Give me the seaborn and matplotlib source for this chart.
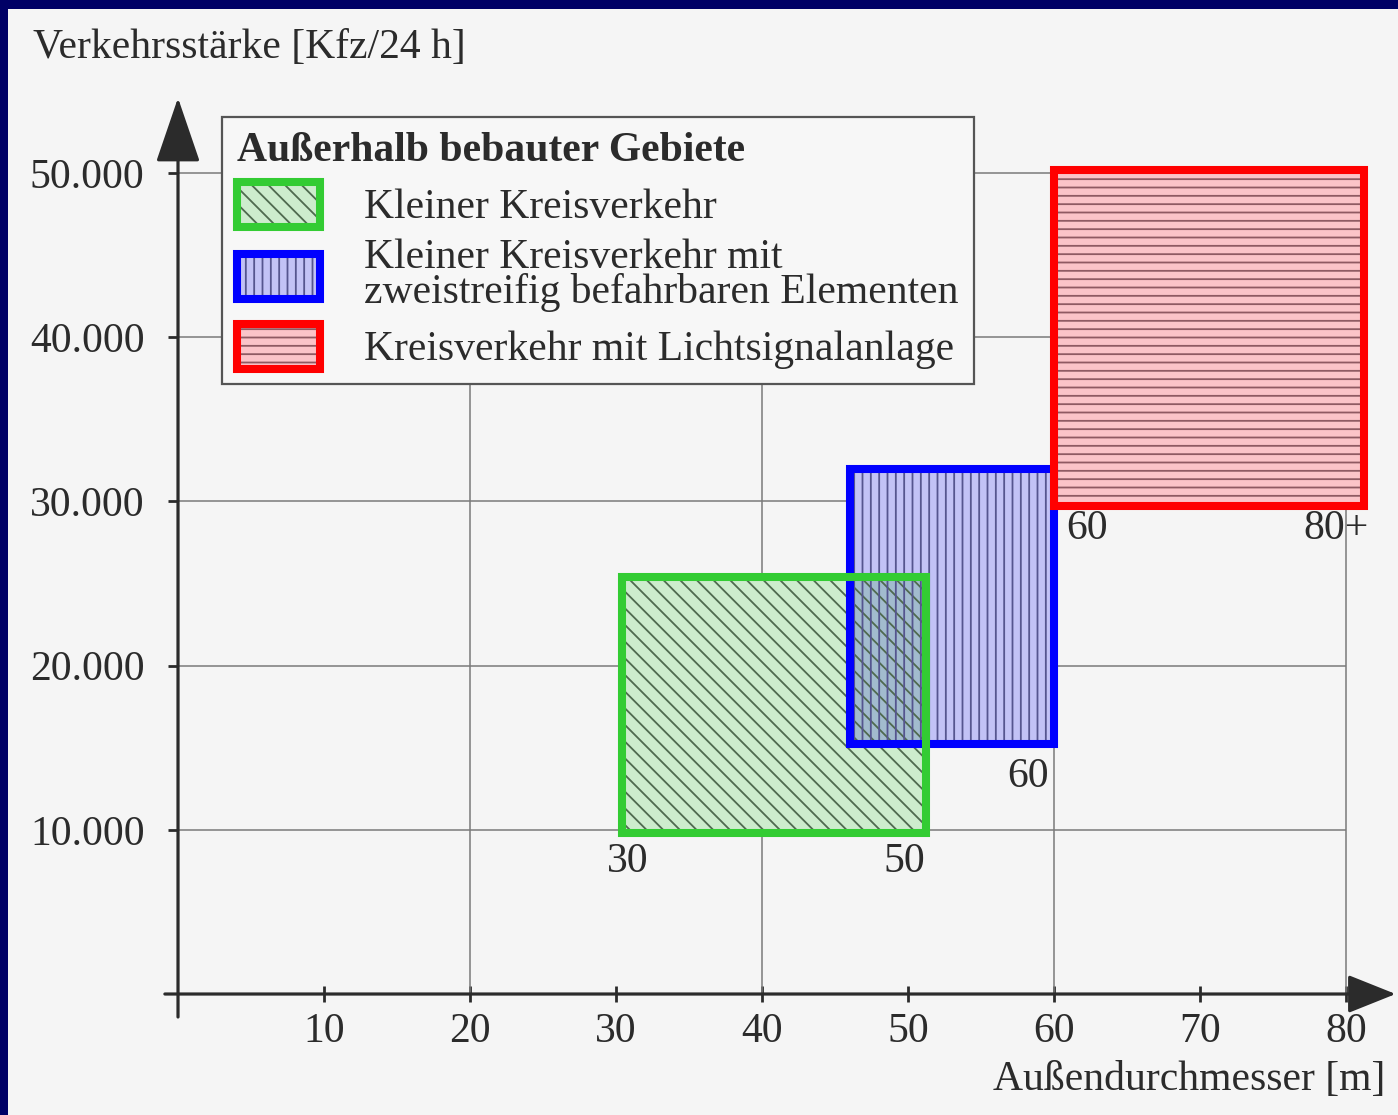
import matplotlib.pyplot as plt
import matplotlib.patches as mpatches
from matplotlib.legend_handler import HandlerTuple
import seaborn as sns

# Einsatzbereiche: Außendurchmesser [m] und Verkehrsstärke [Kfz/24 h]
types = ["Kleiner Kreisverkehr",
         "Kleiner Kreisverkehr mit\nzweistreifig befahrbaren Elementen",
         "Kreisverkehr mit Lichtsignalanlage"]
d_min = [30.4, 46.0, 60.0]
d_max = [51.2, 60.0, 81.2]
q_min = [9800, 15200, 29700]
q_max = [25400, 32000, 50200]

x_ticks = [10, 20, 30, 40, 50, 60, 70, 80]
y_ticks = [10000, 20000, 30000, 40000, 50000]
x_grid = [20, 40, 60, 80]

# corner labels: text, area index, which x corner
corner_text = ["30", "50", "60", "60", "80+"]
corner_area = [0, 0, 1, 2, 2]
corner_side = ["min", "max", "max", "min", "max"]
corner_offset = [(4, -21), (-15, -21), (-19, -23), (24, -16), (-20, -16)]

fills = ["#cdeccd", "#c2c2f6", "#fbc4c8"]
edges = ["#33cc33", "#0000ff", "#ff0000"]
hatch_cols = ["#4f6a4f", "#55558f", "#8f5a62"]
hatches = ["\\\\", "||", "--"]
INK = "#2b2b2b"
FS = 30

sns.set_theme(style="white")
plt.rcParams["font.family"] = ["Liberation Serif", "DejaVu Serif"]
plt.rcParams["hatch.linewidth"] = 1.3
plt.rcParams["text.color"] = INK

fig = plt.figure(figsize=(13.98, 11.15), dpi=100, facecolor="#f5f5f5")
# dark frame on left and top (scan border)
fig.patches.append(mpatches.Rectangle((0, 0), 8 / 1398, 1, transform=fig.transFigure,
                                      facecolor="#000066", edgecolor="none"))
fig.patches.append(mpatches.Rectangle((0, 1 - 9 / 1115), 1, 9 / 1115,
                                      transform=fig.transFigure,
                                      facecolor="#000066", edgecolor="none"))

ax = fig.add_axes([0.1148, 0.0820, 0.8856, 0.8439])
ax.set_facecolor("none")
ax.set_xlim(-1.2, 83.6)
ax.set_ylim(-1800, 55500)

# grid
ax.hlines(y_ticks, 0, 80, color="#7a7a7a", lw=1.1, zorder=1)
ax.vlines(x_grid, 0, 50000, color="#7a7a7a", lw=1.1, zorder=1)

# filled areas
for i in range(3):
    z = 2 if i < 2 else 4
    ax.add_patch(mpatches.Rectangle((d_min[i], q_min[i]), d_max[i] - d_min[i],
                                    q_max[i] - q_min[i], facecolor=fills[i],
                                    edgecolor="none", zorder=z))
# overlap of the two small roundabout areas (multiplied colours)
ox0, ox1 = max(d_min[0], d_min[1]), min(d_max[0], d_max[1])
oy0, oy1 = max(q_min[0], q_min[1]), min(q_max[0], q_max[1])
c0 = [int(fills[0][k:k + 2], 16) for k in (1, 3, 5)]
c1 = [int(fills[1][k:k + 2], 16) for k in (1, 3, 5)]
mix = tuple(min(1, a * b / 255 / 255 * 1.04) for a, b in zip(c0, c1))
ax.add_patch(mpatches.Rectangle((ox0, oy0), ox1 - ox0, oy1 - oy0,
                                facecolor=mix, edgecolor="none", zorder=2.5))
for i in range(3):
    z = 3 if i < 2 else 4.5
    ax.add_patch(mpatches.Rectangle((d_min[i], q_min[i]), d_max[i] - d_min[i],
                                    q_max[i] - q_min[i], fill=False, lw=0,
                                    hatch=hatches[i], edgecolor=hatch_cols[i],
                                    zorder=z))
for i, z in zip([1, 0, 2], [5, 6, 7]):
    ax.add_patch(mpatches.Rectangle((d_min[i], q_min[i]), d_max[i] - d_min[i],
                                    q_max[i] - q_min[i], fill=False,
                                    edgecolor=edges[i], lw=5.8, zorder=z,
                                    joinstyle="miter"))

for txt, a, side, off in zip(corner_text, corner_area, corner_side, corner_offset):
    x = d_min[a] if side == "min" else d_max[a]
    ax.annotate(txt, (x, q_min[a]), xytext=off, textcoords="offset points",
                ha="center", va="center", fontsize=FS, color=INK, zorder=8)

# axes with arrows
for s in ax.spines.values():
    s.set_visible(False)
ax.spines["left"].set_position(("data", 0))
ax.spines["bottom"].set_position(("data", 0))
ax.annotate("", xy=(0, 54570), xytext=(0, -1400),
            arrowprops=dict(arrowstyle="-|>,head_length=2.05,head_width=0.7",
                            mutation_scale=20, lw=2.3, color=INK,
                            shrinkA=0, shrinkB=0), zorder=9)
ax.annotate("", xy=(83.4, 0), xytext=(-0.9, 0),
            arrowprops=dict(arrowstyle="-|>,head_length=1.5,head_width=0.6",
                            mutation_scale=20, lw=2.3, color=INK,
                            shrinkA=0, shrinkB=0), zorder=9)

ax.set_xticks(x_ticks)
ax.set_xticklabels([str(v) for v in x_ticks])
ax.set_yticks(y_ticks)
ax.set_yticklabels([f"{v:,}".replace(",", ".") for v in y_ticks])
ax.tick_params(axis="x", direction="inout", length=12, width=2, color=INK,
               pad=7, labelsize=FS, labelcolor=INK, bottom=True)
ax.tick_params(axis="y", direction="out", length=7, width=2, color=INK,
               pad=17, labelsize=FS, labelcolor=INK, left=True)

fig.text(0.0236, 0.957, "Verkehrsstärke [Kfz/24 h]", fontsize=FS, color=INK,
         ha="left", va="center")
fig.text(0.9907, 0.0314, "Außendurchmesser [m]", fontsize=FS, color=INK,
         ha="right", va="center")

# legend
handles = []
for i in range(3):
    handles.append((
        mpatches.Rectangle((0, 0), 1, 1, facecolor=fills[i], edgecolor="none"),
        mpatches.Rectangle((0, 0), 1, 1, fill=False, lw=0, hatch=hatches[i],
                           edgecolor=hatch_cols[i]),
        mpatches.Rectangle((0, 0), 1, 1, fill=False, edgecolor=edges[i], lw=5.8),
    ))
leg = fig.legend(handles, types, handler_map={tuple: HandlerTuple(ndivide=1)},
                 loc="upper left", bbox_to_anchor=(222 / 1398, 1 - 117 / 1115),
                 bbox_transform=fig.transFigure, borderaxespad=0,
                 title="Außerhalb bebauter Gebiete",
                 title_fontproperties={"weight": "bold", "size": FS},
                 alignment="left", fontsize=FS, frameon=True, fancybox=False,
                 framealpha=1, facecolor="#f7f7f7", edgecolor="#555555",
                 handlelength=2.0, handleheight=1.3, handletextpad=1.05,
                 labelspacing=0.28, borderpad=0.36)
leg.get_frame().set_linewidth(1.6)
leg.get_texts()[1].set_linespacing(0.85)
leg.set_zorder(10)

fig.savefig("out.png", dpi=100, facecolor=fig.get_facecolor())
